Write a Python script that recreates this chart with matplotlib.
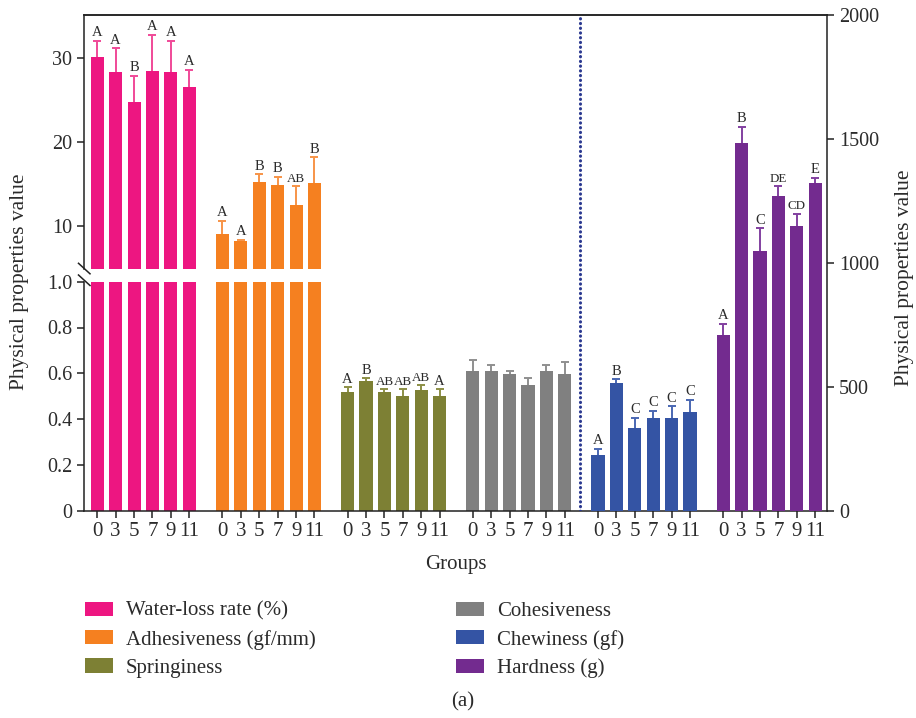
import numpy as np
import matplotlib
matplotlib.use("Agg")
import matplotlib.pyplot as plt
from matplotlib.patches import Patch

plt.rcParams['font.family'] = ['Liberation Serif', 'DejaVu Serif']

# storage days
days = ['0', '3', '5', '7', '9', '11']

water_loss = [30.15, 28.4, 24.8, 28.5, 28.4, 26.6]
water_loss_err = [1.95, 2.8, 3.1, 4.3, 3.65, 2.0]
water_loss_sig = ['A', 'A', 'B', 'A', 'A', 'A']

adhesiveness = [9.13, 8.3, 15.3, 14.95, 12.6, 15.2]
adhesiveness_err = [1.55, 0.12, 0.9, 0.95, 2.15, 3.0]
adhesiveness_sig = ['A', 'A', 'B', 'B', 'AB', 'B']

springiness = [0.518, 0.566, 0.518, 0.501, 0.527, 0.501]
springiness_err = [0.021, 0.012, 0.012, 0.029, 0.021, 0.029]
springiness_sig = ['A', 'B', 'AB', 'AB', 'AB', 'A']

cohesiveness = [0.610, 0.610, 0.597, 0.549, 0.610, 0.597]
cohesiveness_err = [0.049, 0.028, 0.012, 0.029, 0.028, 0.051]

chewiness = [225, 515, 333, 374, 374, 398]
chewiness_err = [24, 15, 42, 28, 47, 50]
chewiness_sig = ['A', 'B', 'C', 'C', 'C', 'C']

hardness = [708, 1485, 1047, 1268, 1147, 1321]
hardness_err = [45, 63, 92, 41, 52, 22]
hardness_sig = ['A', 'B', 'C', 'DE', 'CD', 'E']

names = ['Water-loss rate (%)', 'Adhesiveness (gf/mm)', 'Springiness',
         'Cohesiveness', 'Chewiness (gf)', 'Hardness (g)']
colors = ['#ED1681', '#F58020', '#7D8034', '#808080', '#3454A4', '#732B8F']
err_colors = ['#F04A98', '#F79447', '#8C8F45', '#8F8F8F', '#4A67B2', '#8240A0']

W, H = 916, 718
fig = plt.figure(figsize=(W / 100, H / 100), dpi=100)

def fx(px):
    return px / W

def fy(py):
    return 1 - py / H

left, right = 84, 827
y_base, y_low_top, y_up_bot, y_top = 510.7, 281.7, 269.3, 15
ax_low = fig.add_axes([fx(left), fy(y_base), fx(right - left), (y_base - y_low_top) / H])
ax_up = fig.add_axes([fx(left), fy(y_up_bot), fx(right - left), (y_up_bot - y_top) / H])
ax_r = fig.add_axes([fx(left), fy(y_base), fx(right - left), (y_base - y_top) / H])
ax_r.patch.set_alpha(0)

group_step = 6.8
bw = 0.71
xlim = (-0.72, 39.64)
txt = '#2b2b2b'

def xpos(g):
    return np.arange(6) + g * group_step

def draw(ax, g, vals, errs, sig):
    x = xpos(g)
    ax.bar(x, vals, width=bw, color=colors[g], zorder=2)
    eb = ax.errorbar(x, vals, yerr=[np.zeros(6), errs], fmt='none', ecolor=err_colors[g],
                     elinewidth=1.4, capsize=2.6, capthick=1.4, zorder=3)
    eb[1][0].set_visible(False)  # no cap at the bar top
    if sig is not None:
        for xi, v, e, s in zip(x, vals, errs, sig):
            fs = 10.5 if len(s) == 1 else 9.4
            ax.annotate(s, (xi, v + e), xytext=(0, 1.2), textcoords='offset points',
                        ha='center', va='bottom', fontsize=fs, color=txt)

# broken left axis: water-loss and adhesiveness on top part
for g, vals, errs, sig in [(0, water_loss, water_loss_err, water_loss_sig),
                           (1, adhesiveness, adhesiveness_err, adhesiveness_sig)]:
    draw(ax_up, g, vals, errs, sig)
    ax_low.bar(xpos(g), vals, width=bw, color=colors[g], zorder=2)

draw(ax_low, 2, springiness, springiness_err, springiness_sig)
draw(ax_low, 3, cohesiveness, cohesiveness_err, None)
draw(ax_r, 4, chewiness, chewiness_err, chewiness_sig)
draw(ax_r, 5, hardness, hardness_err, hardness_sig)

ax_r.axvline(26.23, color='#2B3990', lw=2.2, linestyle=(0, (0.1, 1.45)),
             dash_capstyle='round', zorder=1)

for ax in (ax_low, ax_up, ax_r):
    ax.set_xlim(*xlim)
    for sp in ax.spines.values():
        sp.set_linewidth(1.1)
        sp.set_color('#222222')
    ax.tick_params(colors='#222222', labelcolor=txt, labelsize=14.5, width=1.1, length=5)

ax_low.set_ylim(0, 1.0)
ax_low.set_yticks([0, 0.2, 0.4, 0.6, 0.8, 1.0])
ax_low.set_yticklabels(['0', '0.2', '0.4', '0.6', '0.8', '1.0'])
ax_low.spines['top'].set_visible(False)
ax_low.spines['right'].set_visible(False)
ticks_x = np.concatenate([xpos(g) for g in range(6)])
ax_low.set_xticks(ticks_x)
ax_low.set_xticklabels(days * 6)
ax_low.tick_params(axis='x', pad=3, labelsize=15)

ax_up.set_ylim(4.9, 35.15)
ax_up.set_yticks([10, 20, 30])
ax_up.spines['bottom'].set_visible(False)
ax_up.spines['right'].set_visible(False)
ax_up.set_xticks([])

ax_r.set_ylim(0, 2000)
ax_r.set_yticks([0, 500, 1000, 1500, 2000])
ax_r.yaxis.tick_right()
ax_r.spines['left'].set_visible(False)
ax_r.spines['bottom'].set_visible(False)
ax_r.set_xticks([])

# break marks on the left spine
for yb in (268.3, 280):
    fig.add_artist(plt.Line2D([fx(78.5), fx(90)], [fy(yb - 5), fy(yb + 5.5)],
                              color='#222222', lw=1.1))

fig.text(fx(20), fy(282), 'Physical properties value', rotation=90,
         ha='center', va='center', fontsize=15.5, color=txt)
fig.text(fx(905), fy(278), 'Physical properties value', rotation=90,
         ha='center', va='center', fontsize=15.5, color=txt)
fig.text(fx(455.5), fy(565), 'Groups', ha='center', va='center', fontsize=15, color=txt)

handles = [Patch(facecolor=c) for c in colors]
leg_kw = dict(frameon=False, fontsize=15, handlelength=1.35, handleheight=0.68,
              handletextpad=0.62, labelspacing=0.42, borderpad=0, borderaxespad=0,
              loc='upper left', labelcolor=txt)
fig.legend(handles[:3], names[:3], bbox_to_anchor=(fx(85), fy(601.5)), **leg_kw)
fig.legend(handles[3:], names[3:], bbox_to_anchor=(fx(456), fy(601.5)), **leg_kw)

fig.text(fx(463), fy(702), '(a)', ha='center', va='center', fontsize=15, color=txt)

fig.savefig('out.png', dpi=100)
